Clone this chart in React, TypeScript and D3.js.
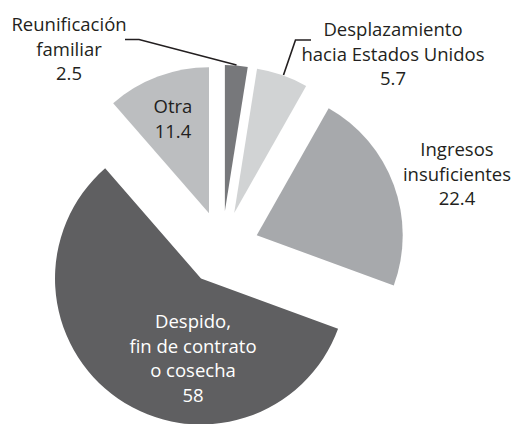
import React from "react";
import * as d3 from "d3";

const categories = [
  "Reunificación familiar",
  "Desplazamiento hacia Estados Unidos",
  "Ingresos insuficientes",
  "Despido, fin de contrato o cosecha",
  "Otra",
];
const values = [2.5, 5.7, 22.4, 58, 11.4];
const valueLabels = ["2.5", "5.7", "22.4", "58", "11.4"];
const colors = ["#77787b", "#d1d3d4", "#a7a9ac", "#5f5f61", "#bcbec0"];

const labelLines: string[][] = [
  ["Reunificación", "familiar"],
  ["Desplazamiento", "hacia Estados Unidos"],
  ["Ingresos", "insuficientes"],
  ["Despido,", "fin de contrato", "o cosecha"],
  ["Otra"],
];
const labelPos: [number, number][] = [
  [69, 31],
  [393, 36],
  [457, 156],
  [193, 328],
  [173, 113],
];
const labelColor = ["#231f20", "#231f20", "#231f20", "#ffffff", "#231f20"];

export default function App() {
  const W = 511;
  const H = 424;
  const cx = 222;
  const cy = 248;
  const R = 146;
  const explode = 37;
  const pie = d3
    .pie<number>()
    .sort(null)
    .value((d) => d)
    .startAngle(0)
    .endAngle(2 * Math.PI);
  const arcs = pie(values);
  const arc = d3.arc<d3.PieArcDatum<number>>().innerRadius(0).outerRadius(R);
  const lh = 24.7;

  const leader1: [number, number][] = [
    [125, 39.5],
    [139, 39.5],
    [236.5, 65],
  ];
  const leader2: [number, number][] = [
    [283.5, 75],
    [295.5, 40],
    [311, 40],
  ];
  const line = d3.line();

  return (
    <svg
      width={W}
      height={H}
      style={{ position: "absolute", left: 0, top: 0 }}
      fontFamily="'Open Sans', 'Noto Sans', sans-serif"
    >
      <rect width={W} height={H} fill="#ffffff" />
      {arcs.map((a, i) => {
        const mid = (a.startAngle + a.endAngle) / 2;
        const dx = explode * Math.sin(mid);
        const dy = -explode * Math.cos(mid);
        return (
          <path
            key={categories[i]}
            d={arc(a) || ""}
            fill={colors[i]}
            transform={`translate(${cx + dx},${cy + dy})`}
          />
        );
      })}
      <path d={line(leader1) || ""} fill="none" stroke="#231f20" strokeWidth={1.6} />
      <path d={line(leader2) || ""} fill="none" stroke="#231f20" strokeWidth={1.6} />
      {labelLines.map((lines, i) => (
        <text
          key={"t" + i}
          x={labelPos[i][0]}
          y={labelPos[i][1]}
          textAnchor="middle"
          fontSize={18.5}
          fill={labelColor[i]}
        >
          {[...lines, valueLabels[i]].map((s, j) => (
            <tspan key={j} x={labelPos[i][0]} y={labelPos[i][1] + j * lh}>
              {s}
            </tspan>
          ))}
        </text>
      ))}
    </svg>
  );
}
